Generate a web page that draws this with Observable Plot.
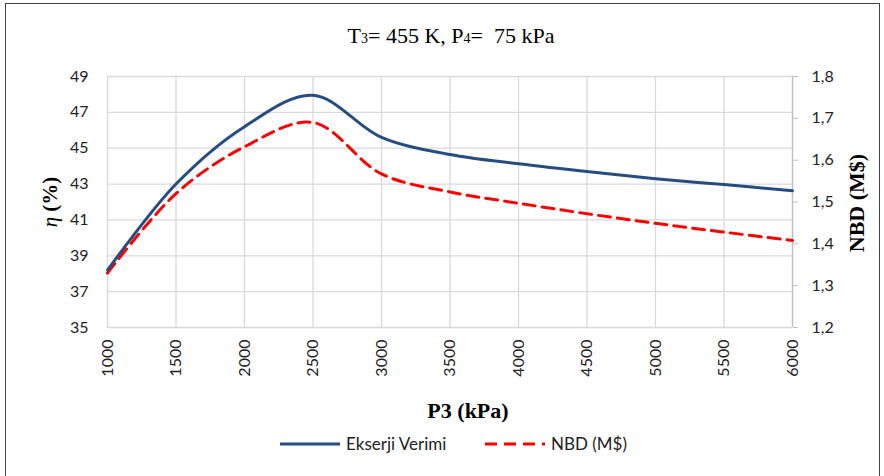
<!DOCTYPE html>
<html>
<head>
<meta charset="utf-8">
<script src="https://cdn.jsdelivr.net/npm/d3@7"></script>
<script src="https://cdn.jsdelivr.net/npm/@observablehq/plot@0.6"></script>
<style>
  body { margin: 0; background: #fff; }
  #wrap { position: relative; width: 884px; height: 476px; overflow: hidden; background:#fff; }
  #frame { position: absolute; left: 5px; top: 3px; width: 875px; height: 480px; border: 1px solid #444; box-sizing: border-box; }
  .t { position: absolute; white-space: nowrap; color: #000; }
  #title { left: 451px; top: 36px; transform: translate(-50%, -50%); font: 22px "Liberation Serif", "Times New Roman", serif; }
  #title span { font-size: 14px; }
  #ytitle { left: 50px; top: 202px; transform: translate(-50%, -50%) rotate(-90deg); font: bold 21px "Liberation Serif", serif; }
  #y2title { left: 857px; top: 203px; transform: translate(-50%, -50%) rotate(-90deg); font: bold 22px "Liberation Serif", serif; }
  #xtitle { left: 468px; top: 411px; transform: translate(-50%, -50%); font: bold 22px "Liberation Serif", serif; }
  .leg { position: absolute; top: 433px; font: 17px Lato, "Open Sans", sans-serif; color: #222; display: flex; align-items: center; }
  .leg svg { margin-right: 6px; }
</style>
</head>
<body>
<div id="wrap">
  <div id="chart"></div>
  <div id="frame"></div>
  <div class="t" id="title">T<span>3</span>= 455 K, P<span>4</span>=&nbsp; 75 kPa</div>
  <div class="t" id="ytitle"><i style="font-weight:normal">η</i> (%)</div>
  <div class="t" id="y2title">NBD (M$)</div>
  <div class="t" id="xtitle">P3 (kPa)</div>
  <div class="leg" style="left:280px"><svg width="60" height="10"><line x1="0" y1="5" x2="60" y2="5" stroke="#264d82" stroke-width="3"/></svg>Ekserji Verimi</div>
  <div class="leg" style="left:485px"><svg width="60" height="10"><line x1="0" y1="5" x2="60" y2="5" stroke="#ff0000" stroke-width="3" stroke-dasharray="12,7"/></svg>NBD (M$)</div>
</div>
<script>
const pressure = [1000,1500,2000,2500,3000,3500,4000,4500,5000,5500,6000];
const exergy   = [38.2,43.0,46.2,47.95,45.6,44.65,44.13,43.7,43.3,42.97,42.63];
const nbd      = [1.33,1.52,1.632,1.69,1.567,1.524,1.497,1.472,1.449,1.428,1.408];
const xTicks = [1000,1500,2000,2500,3000,3500,4000,4500,5000,5500,6000];
const yTicks = [35,37,39,41,43,45,47,49];
const y2Ticks = [1.2,1.3,1.4,1.5,1.6,1.7,1.8];

// map right-axis values onto left scale
const toLeft = v => 35 + (v - 1.2) / 0.6 * 14;
const fromLeft = y => 1.2 + (y - 35) / 14 * 0.6;

const blueData = pressure.map((p, i) => ({p, v: exergy[i]}));
const redData = pressure.map((p, i) => ({p, v: toLeft(nbd[i])}));

const font = 'Lato, "Open Sans", sans-serif';
const plot = Plot.plot({
  width: 884,
  height: 476,
  marginTop: 76,
  marginBottom: 149,
  marginLeft: 107,
  marginRight: 92,
  style: {fontFamily: font, fontSize: "16px", color: "#222", background: "transparent"},
  x: {domain: [1000, 6000]},
  y: {domain: [35, 49]},
  marks: [
    Plot.gridX(xTicks, {stroke: "#d9d9d9", strokeOpacity: 1, strokeWidth: 1.3}),
    Plot.gridY(yTicks, {stroke: "#d9d9d9", strokeOpacity: 1, strokeWidth: 1.3}),
    Plot.axisY(yTicks, {anchor: "left", tickSize: 0, tickPadding: 19, label: null, fontSize: 16}),
    Plot.axisY(y2Ticks.map(toLeft), {anchor: "right", tickSize: 5, tickPadding: 14, stroke: "#bfbfbf", label: null, fontSize: 16,
      tickFormat: d => fromLeft(d).toFixed(1).replace(".", ",")}),
    Plot.ruleX([6000], {stroke: "#bfbfbf", strokeWidth: 1.3}),
    Plot.axisX(xTicks, {anchor: "bottom", tickSize: 0, tickPadding: 12, tickRotate: -90, label: null, fontSize: 16, tickFormat: d => String(d)}),
    Plot.line(redData, {x: "p", y: "v", stroke: "#ff0000", strokeWidth: 3, strokeDasharray: "12,7", curve: "catmull-rom"}),
    Plot.line(blueData, {x: "p", y: "v", stroke: "#264d82", strokeWidth: 3, curve: "catmull-rom"})
  ]
});
document.getElementById("chart").appendChild(plot);
</script>
</body>
</html>
